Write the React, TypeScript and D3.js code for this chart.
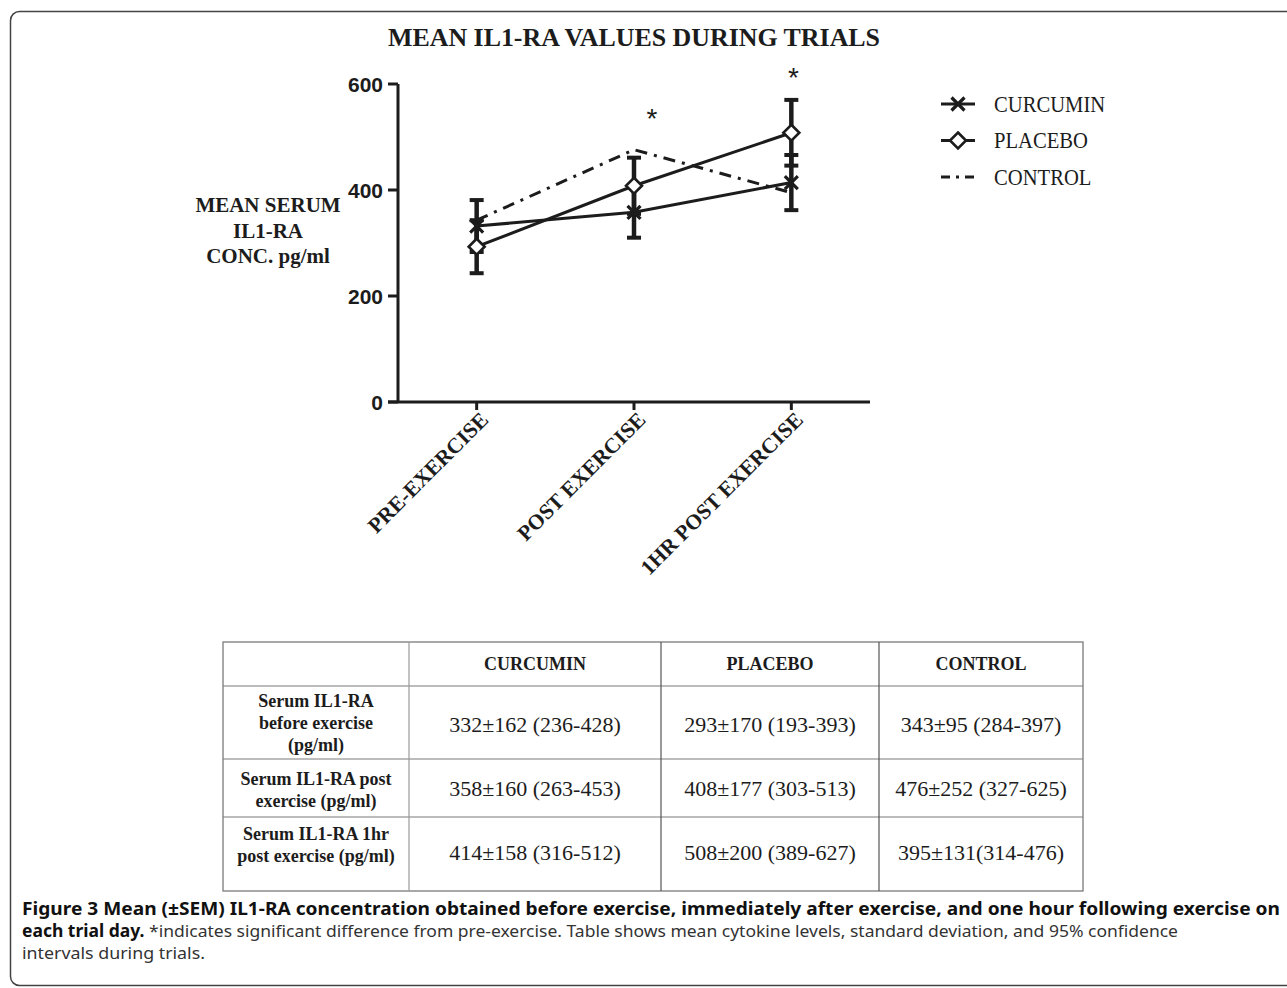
import * as d3 from "d3";

const categories = ["PRE-EXERCISE", "POST EXERCISE", "1HR POST EXERCISE"];
const curcuminMean = [332, 358, 414];
const curcuminSem = [49, 48, 52];
const placeboMean = [293, 408, 508];
const placeboSem = [50, 53, 62];
const controlMean = [343, 476, 395];
const yTicks = [0, 200, 400, 600];
// asterisks: category index and the level they sit at
const asteriskCat = [1, 2];
const asteriskLevel = [545, 623];

const legendNames = ["CURCUMIN", "PLACEBO", "CONTROL"];

const tableHeaders = ["CURCUMIN", "PLACEBO", "CONTROL"];
const tableRowLabels = [
  ["Serum IL1-RA", "before exercise", "(pg/ml)"],
  ["Serum IL1-RA post", "exercise (pg/ml)"],
  ["Serum IL1-RA 1hr", "post exercise (pg/ml)"],
];
const tableCells = [
  ["332±162 (236-428)", "293±170 (193-393)", "343±95 (284-397)"],
  ["358±160 (263-453)", "408±177 (303-513)", "476±252 (327-625)"],
  ["414±158 (316-512)", "508±200 (389-627)", "395±131(314-476)"],
];

const SERIF = "'Liberation Serif', 'Times New Roman', serif";
const SANS = "'Liberation Sans', Arial, sans-serif";
const CAP = "'Noto Sans', 'Open Sans', sans-serif";
const INK = "#1c1c1c";

function SText({ x, y, sx = 1, children, ...rest }: any) {
  return (
    <text transform={`translate(${x},${y}) scale(${sx},1)`} {...rest}>
      {children}
    </text>
  );
}

function Cross({ x, y }: { x: number; y: number }) {
  const s = 6.5;
  return (
    <path
      d={`M${x - s},${y - s}L${x + s},${y + s}M${x - s},${y + s}L${x + s},${y - s}`}
      stroke={INK}
      strokeWidth={3.2}
    />
  );
}

function Diamond({ x, y }: { x: number; y: number }) {
  const s = 8;
  return (
    <path
      d={`M${x},${y - s}L${x + s},${y}L${x},${y + s}L${x - s},${y}Z`}
      fill="#fff"
      stroke={INK}
      strokeWidth={2.6}
    />
  );
}

function Chart() {
  const xScale = d3.scaleBand<string>().domain(categories).range([398, 870]).padding(0);
  const cx = (i: number) => (xScale(categories[i]) ?? 0) + xScale.bandwidth() / 2;
  const yScale = d3.scaleLinear().domain([0, 600]).range([402, 84]);

  const line = d3
    .line<number>()
    .x((_, i) => cx(i))
    .y((d) => yScale(d));

  const errorBars = (mean: number[], sem: number[], key: string) =>
    mean.map((m, i) => {
      const x = cx(i);
      const y1 = yScale(m + sem[i]);
      const y2 = yScale(m - sem[i]);
      return (
        <g key={key + i} stroke={INK} strokeWidth={4.5}>
          <line x1={x} x2={x} y1={y1} y2={y2} />
          <line x1={x - 7} x2={x + 7} y1={y1} y2={y1} strokeWidth={4} />
          <line x1={x - 7} x2={x + 7} y1={y2} y2={y2} strokeWidth={4} />
        </g>
      );
    });

  return (
    <g>
      {/* title */}
      <text
        x={634}
        y={46}
        textAnchor="middle"
        fontFamily={SERIF}
        fontWeight="bold"
        fontSize={26}
        textLength={492}
        lengthAdjust="spacingAndGlyphs"
        fill={INK}
      >
        MEAN IL1-RA VALUES DURING TRIALS
      </text>

      {/* y axis label */}
      {["MEAN SERUM", "IL1-RA", "CONC. pg/ml"].map((t, i) => (
        <text
          key={t}
          x={268}
          y={212 + i * 25.5}
          textAnchor="middle"
          fontFamily={SERIF}
          fontWeight="bold"
          fontSize={21}
          fill={INK}
        >
          {t}
        </text>
      ))}

      {/* axes */}
      <line x1={398} x2={398} y1={84} y2={402} stroke={INK} strokeWidth={3} />
      <line x1={388} x2={870} y1={402} y2={402} stroke={INK} strokeWidth={3} />
      {yTicks.map((t) => (
        <g key={t}>
          <line x1={388} x2={398} y1={yScale(t)} y2={yScale(t)} stroke={INK} strokeWidth={3} />
          <text
            x={383}
            y={yScale(t) + 7.5}
            textAnchor="end"
            fontFamily={SANS}
            fontWeight="bold"
            fontSize={21}
            fill={INK}
          >
            {t}
          </text>
        </g>
      ))}
      {categories.map((c, i) => (
        <g key={c}>
          <line x1={cx(i)} x2={cx(i)} y1={402} y2={410} stroke={INK} strokeWidth={3} />
          <text
            transform={`translate(${cx(i) + 13},${421}) rotate(-45)`}
            textAnchor="end"
            fontFamily={SERIF}
            fontWeight="bold"
            fontSize={21.5}
            fill={INK}
          >
            {c}
          </text>
        </g>
      ))}

      {/* error bars */}
      {errorBars(curcuminMean, curcuminSem, "c")}
      {errorBars(placeboMean, placeboSem, "p")}

      {/* lines */}
      <path d={line(controlMean) ?? ""} fill="none" stroke={INK} strokeWidth={3} strokeDasharray="12 7 3 7" />
      <path d={line(curcuminMean) ?? ""} fill="none" stroke={INK} strokeWidth={3} />
      <path d={line(placeboMean) ?? ""} fill="none" stroke={INK} strokeWidth={3} />

      {/* markers */}
      {curcuminMean.map((m, i) => (
        <Cross key={"cx" + i} x={cx(i)} y={yScale(m)} />
      ))}
      {placeboMean.map((m, i) => (
        <Diamond key={"dm" + i} x={cx(i)} y={yScale(m)} />
      ))}

      {/* significance */}
      {asteriskCat.map((c, i) => (
        <text
          key={"ast" + i}
          x={cx(c) + (i === 0 ? 18 : 2)}
          y={yScale(asteriskLevel[i]) + 15}
          textAnchor="middle"
          fontFamily={SANS}
          fontSize={28}
          fill={INK}
        >
          *
        </text>
      ))}

      {/* legend */}
      {legendNames.map((n, i) => {
        const ly = 104 + i * 36.5;
        return (
          <g key={n}>
            {i < 2 ? (
              <line x1={941} x2={975} y1={ly} y2={ly} stroke={INK} strokeWidth={3} />
            ) : (
              <line x1={941} x2={975} y1={ly} y2={ly} stroke={INK} strokeWidth={3} strokeDasharray="9 6 3 6" />
            )}
            {i === 0 && <Cross x={958} y={ly} />}
            {i === 1 && <Diamond x={958} y={ly} />}
            <SText x={994} y={ly + 7.5} sx={0.86} fontFamily={SERIF} fontSize={24} fill={INK}>
              {n}
            </SText>
          </g>
        );
      })}
    </g>
  );
}

function Table() {
  const colX = [223, 409, 661, 879, 1083];
  const rowY = [642, 686, 759, 817, 891];
  const colMid = colX.slice(0, 4).map((v, i) => (v + colX[i + 1]) / 2);
  const labelBase = [
    [707, 729, 751],
    [785, 807],
    [840, 862],
  ];
  const valueBase = [732, 796, 860];
  const stroke = "#7a7a7a";
  return (
    <g>
      <rect x={colX[0]} y={rowY[0]} width={colX[4] - colX[0]} height={rowY[4] - rowY[0]} fill="none" stroke={stroke} strokeWidth={1.3} />
      {rowY.slice(1, 4).map((yy) => (
        <line key={yy} x1={colX[0]} x2={colX[4]} y1={yy} y2={yy} stroke={stroke} strokeWidth={1.2} />
      ))}
      {colX.slice(1, 4).map((xx, i) => (
        <line key={xx} x1={xx} x2={xx} y1={rowY[0]} y2={rowY[4]} stroke={i === 0 ? "#9a9a9a" : "#555"} strokeWidth={1.2} />
      ))}
      {tableHeaders.map((h, i) => (
        <text key={h} x={colMid[i + 1]} y={670} textAnchor="middle" fontFamily={SERIF} fontWeight="bold" fontSize={18} fill={INK}>
          {h}
        </text>
      ))}
      {tableRowLabels.map((lines, r) =>
        lines.map((t, k) => (
          <text key={r + "-" + k} x={colMid[0]} y={labelBase[r][k]} textAnchor="middle" fontFamily={SERIF} fontWeight="bold" fontSize={18} fill={INK}>
            {t}
          </text>
        ))
      )}
      {tableCells.map((row, r) =>
        row.map((t, c) => (
          <text key={r + "_" + c} x={colMid[c + 1]} y={valueBase[r]} textAnchor="middle" fontFamily={SERIF} fontSize={22} fill={INK}>
            {t}
          </text>
        ))
      )}
    </g>
  );
}

function Caption() {
  return (
    <g fontFamily={CAP} fontSize={17}>
      <text x={22} y={915} textLength={1258} lengthAdjust="spacingAndGlyphs" fontWeight="bold" fill="#111">
        Figure 3 Mean (±SEM) IL1-RA concentration obtained before exercise, immediately after exercise, and one hour following exercise on
      </text>
      <text x={22} y={937} textLength={1156} lengthAdjust="spacingAndGlyphs" fill="#333">
        <tspan fontWeight="bold" fill="#111">each trial day.</tspan>
        <tspan> *indicates significant difference from pre-exercise. Table shows mean cytokine levels, standard deviation, and 95% confidence</tspan>
      </text>
      <text x={22} y={959} textLength={183} lengthAdjust="spacingAndGlyphs" fill="#333">
        intervals during trials.
      </text>
    </g>
  );
}

export default function App() {
  return (
    <svg
      width={1287}
      height={988}
      style={{ position: "absolute", left: 0, top: 0, background: "#fff" }}
    >
      <rect x={0} y={0} width={1287} height={988} fill="#fff" />
      <rect x={10.5} y={11.5} width={1300} height={974} rx={9} fill="none" stroke="#444" strokeWidth={1.5} />
      <Chart />
      <Table />
      <Caption />
    </svg>
  );
}
